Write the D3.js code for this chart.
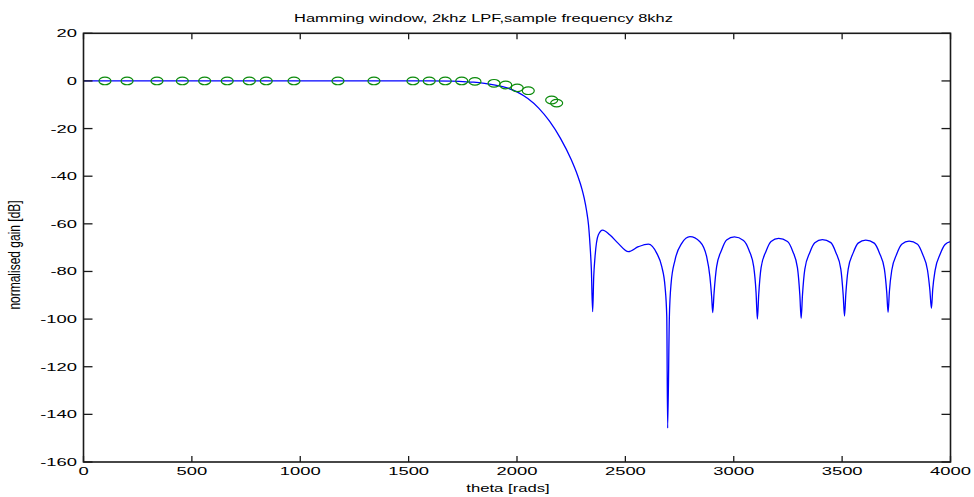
<!DOCTYPE html>
<html>
<head>
<meta charset="utf-8">
<script src="https://cdn.jsdelivr.net/npm/d3@7"></script>
<style>
  body { margin: 0; background: #fff; }
  svg text { font-family: "Liberation Sans", Arial, sans-serif; fill: #000; }
</style>
</head>
<body>
<div id="chart"></div>
<script>
// frequency response (Hz, dB)
var curveFreq = [0, 1000, 1600, 1700, 1750, 1800, 1850, 1900, 1950, 2000, 2050, 2100, 2150, 2200, 2250, 2280, 2300, 2310, 2321, 2330, 2337, 2343, 2349,
  2354, 2360, 2375, 2395, 2429, 2467, 2514, 2560, 2606, 2645, 2668, 2683, 2691, 2695, 2703, 2711, 2729, 2760, 2798, 2844, 2875, 2890, 2898, 2903,
  2909, 2921, 2944, 2967, 3003, 3045, 3070, 3092, 3103, 3109,
  3115, 3126, 3149, 3172, 3207, 3248, 3272, 3294, 3305, 3311,
  3317, 3328, 3351, 3374, 3409, 3448, 3471, 3494, 3505, 3511,
  3517, 3528, 3551, 3574, 3609, 3648, 3672, 3695, 3706, 3712,
  3718, 3729, 3752, 3775, 3809, 3848, 3871, 3894, 3905, 3912,
  3918, 3929, 3952, 3975, 4000];
var curveGain = [0, 0, 0, -0.1, -0.3, -0.5, -1.0, -1.8, -2.8, -4.6, -7.4, -11.4, -16.9, -24, -33, -39.8, -45.5, -49.2, -54.5, -60.5, -69, -79, -96.9,
  -82.2, -73.8, -64.7, -62.6, -64.7, -68.2, -71.7, -69.6, -68.5, -72.4, -78.0, -86.4, -99, -145.8, -99, -85, -75.2, -68.2, -65.4, -67.5, -73.8, -82.2, -90.6, -97.3,
  -89.2, -78, -71, -66.8, -65.5, -67, -71, -78, -89, -100,
  -90, -78.5, -71.5, -67.4, -66.1, -67.4, -71.5, -78.5, -90, -99.7,
  -90, -79, -72, -67.9, -66.6, -67.9, -72, -79, -90, -98.7,
  -89.5, -79, -72.2, -68.1, -66.8, -68.1, -72.2, -79, -89, -97.2,
  -88.5, -79.5, -72.7, -68.6, -67.3, -68.6, -72.7, -79.5, -88, -95.5,
  -87.5, -79.5, -72.8, -68.7, -67.5];

// green sample markers
var markFreq = [99, 201, 339, 456, 559, 663, 765, 843, 971, 1174, 1340, 1520, 1595, 1669, 1745, 1806, 1894, 1948, 2001, 2052, 2160, 2183];
var markGain = [0, 0, 0, 0, 0, 0, 0, 0, 0, 0, 0, 0, 0, 0, 0, -0.2, -1.0, -1.7, -2.9, -4.1, -8.0, -9.3];

var xTicks = [0, 500, 1000, 1500, 2000, 2500, 3000, 3500, 4000];
var yTicks = [20, 0, -20, -40, -60, -80, -100, -120, -140, -160];

(function () {

  var w = 974, h = 497;
  var pLeft = 83.5, pRight = 950.5, pTop = 33.3, pBottom = 462;
  var stretch = 1.6; // the picture is stretched sideways

  var x = d3.scaleLinear().domain([0, 4000]).range([pLeft, pRight]);
  var y = d3.scaleLinear().domain([-160, 20]).range([pBottom, pTop]);

  var svg = d3.select("#chart").append("svg")
    .attr("width", w)
    .attr("height", h);

  // curve
  var pts = curveFreq.map(function (f, i) { return [f, curveGain[i]]; });
  var line = d3.line()
    .x(function (d) { return x(d[0]); })
    .y(function (d) { return y(d[1]); })
    .curve(d3.curveMonotoneX);

  svg.append("path")
    .datum(pts)
    .attr("d", line)
    .style("fill", "none")
    .style("stroke", "#0000ff")
    .style("stroke-width", 1.3);

  // markers
  svg.selectAll(".mark")
    .data(markFreq.map(function (f, i) { return [f, markGain[i]]; }))
    .enter()
    .append("ellipse")
    .attr("class", "mark")
    .attr("cx", function (d) { return x(d[0]); })
    .attr("cy", function (d) { return y(d[1]); })
    .attr("rx", 6)
    .attr("ry", 3.8)
    .style("fill", "none")
    .style("stroke", "#0a8a0a")
    .style("stroke-width", 1.2);

  // box
  svg.append("rect")
    .attr("x", pLeft).attr("y", pTop)
    .attr("width", pRight - pLeft).attr("height", pBottom - pTop)
    .style("fill", "none")
    .style("stroke", "#1a1a1a")
    .style("stroke-width", 1.6);

  // ticks (inward, on all four sides)
  xTicks.forEach(function (t) {
    svg.append("line").attr("x1", x(t)).attr("x2", x(t)).attr("y1", pBottom).attr("y2", pBottom - 6)
      .style("stroke", "#1a1a1a").style("stroke-width", 1.3);
    svg.append("line").attr("x1", x(t)).attr("x2", x(t)).attr("y1", pTop).attr("y2", pTop + 6)
      .style("stroke", "#1a1a1a").style("stroke-width", 1.3);
  });
  yTicks.forEach(function (t) {
    svg.append("line").attr("x1", pLeft).attr("x2", pLeft + 9).attr("y1", y(t)).attr("y2", y(t))
      .style("stroke", "#1a1a1a").style("stroke-width", 1.3);
    svg.append("line").attr("x1", pRight).attr("x2", pRight - 9).attr("y1", y(t)).attr("y2", y(t))
      .style("stroke", "#1a1a1a").style("stroke-width", 1.3);
  });

  // tick labels
  svg.selectAll(".xlab")
    .data(xTicks)
    .enter()
    .append("text")
    .attr("class", "xlab")
    .attr("transform", function (d) { return "translate(" + x(d) + "," + 475 + ") scale(" + stretch + ",1)"; })
    .attr("text-anchor", "middle")
    .style("font-size", "11.5px")
    .text(function (d) { return d; });

  svg.selectAll(".ylab")
    .data(yTicks)
    .enter()
    .append("text")
    .attr("class", "ylab")
    .attr("transform", function (d) { return "translate(" + 77 + "," + (y(d) + 4) + ") scale(" + stretch + ",1)"; })
    .attr("text-anchor", "end")
    .style("font-size", "11.5px")
    .text(function (d) { return d; });

  // title and axis titles
  svg.append("text")
    .attr("transform", "translate(483.5,22) scale(1.43,1)")
    .attr("text-anchor", "middle")
    .style("font-size", "11.5px")
    .text("Hamming window, 2khz LPF,sample frequency 8khz");

  svg.append("text")
    .attr("transform", "translate(508,492) scale(1.45,1)")
    .attr("text-anchor", "middle")
    .style("font-size", "11.5px")
    .text("theta [rads]");

  svg.append("text")
    .attr("transform", "translate(20,255) rotate(-90) scale(1,1.4)")
    .attr("text-anchor", "middle")
    .style("font-size", "12px")
    .text("normalised gain [dB]");

})()
</script>
</body>
</html>
